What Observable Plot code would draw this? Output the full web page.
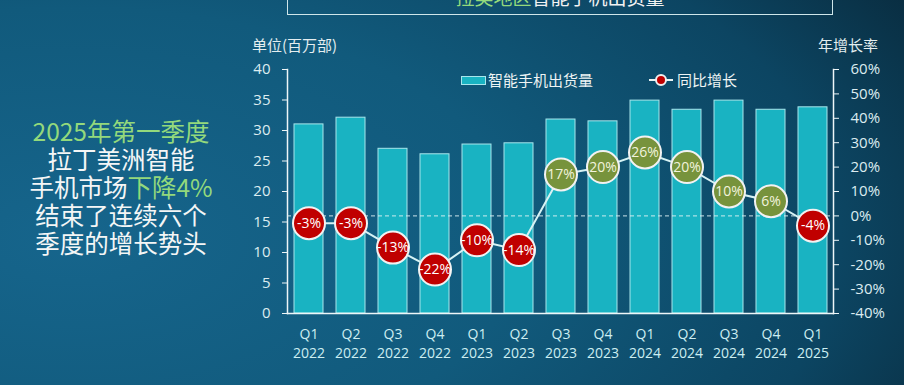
<!DOCTYPE html>
<html><head><meta charset="utf-8">
<script src="https://cdn.jsdelivr.net/npm/d3@7"></script>
<script src="https://cdn.jsdelivr.net/npm/@observablehq/plot@0.6"></script>
<style>
html,body{margin:0;padding:0;}
body{width:904px;height:385px;overflow:hidden;position:relative;
 background: radial-gradient(ellipse 125% 150% at 8% 62%, #16658c 0%, #115a7c 40%, #0c4562 68%, #092c3f 86%, #061b28 100%);
 font-family:"Noto Sans CJK SC","Open Sans",sans-serif;}
.abs{position:absolute;white-space:nowrap;}
#chart{position:absolute;left:0;top:0;}
.g{color:#93d97c;}
.ln{position:absolute;left:0;width:242px;text-align:center;font-size:24.5px;line-height:28px;height:28px;color:#f4f6f6;white-space:nowrap;}
</style></head><body>
<div id="chart"></div>
<div class="abs" style="left:287px;top:-20px;width:544px;height:33px;border:1px solid #cfe6ea;"></div>
<div class="abs" style="left:287px;width:546px;top:-14px;line-height:22px;font-size:19px;color:#f2f2f2;text-align:center;"><span class="g">拉美地区</span>智能手机出货量</div>
<div class="ln" style="top:117px;"><span class="g">2025年第一季度</span></div>
<div class="ln" style="top:145px;">拉丁美洲智能</div>
<div class="ln" style="top:173px;">手机市场<span class="g">下降4%</span></div>
<div class="ln" style="top:201px;">结束了连续六个</div>
<div class="ln" style="top:229px;">季度的增长势头</div>
<div class="abs" style="left:252px;top:35px;font-size:15px;line-height:20px;color:#e4eef0;">单位(百万部)</div>
<div class="abs" style="left:818px;top:35px;font-size:15px;line-height:20px;color:#e4eef0;">年增长率</div>
<div class="abs" style="left:461px;top:76px;width:23px;height:7px;background:#19b3c2;border:1px solid #a8e6ec;"></div>
<div class="abs" style="left:488px;top:70px;font-size:15px;line-height:20px;color:#eef4f4;">智能手机出货量</div>
<div class="abs" style="left:649px;top:79px;width:24px;height:2px;background:#e8f4f4;"></div>
<div class="abs" style="left:655px;top:74px;width:8px;height:8px;border-radius:50%;background:#c00000;border:2px solid #f0f0f0;"></div>
<div class="abs" style="left:677px;top:70px;font-size:15px;line-height:20px;color:#eef4f4;">同比增长</div>
<script>
const quarters = ["Q1 2022","Q2 2022","Q3 2022","Q4 2022","Q1 2023","Q2 2023","Q3 2023","Q4 2023","Q1 2024","Q2 2024","Q3 2024","Q4 2024","Q1 2025"];
const shipments = [31.0,32.1,27.0,26.1,27.7,27.9,31.8,31.5,34.9,33.4,34.9,33.4,33.8];
const growth = [-3,-3,-13,-22,-10,-14,17,20,26,20,10,6,-4];
const leftTicks = [0,5,10,15,20,25,30,35,40];
const rightTicks = [-40,-30,-20,-10,0,10,20,30,40,50,60];

// growth (-40%..60%) shares the y scale with shipments (0..40)
const toY = g => (g + 40) * 0.4;
const fromY = y => Math.round(y / 0.4 - 40);

const data = quarters.map((q, i) => ({q, s: shipments[i], g: growth[i]}));
const font = "'Open Sans','Noto Sans CJK SC',sans-serif";
const tickColor = "#dcecf0";

const chart = Plot.plot({
  width: 904, height: 385,
  marginLeft: 287, marginRight: 71, marginTop: 69, marginBottom: 72,
  style: {background: "transparent", color: tickColor, fontFamily: font, overflow: "visible"},
  x: {domain: quarters, type: "band", paddingInner: 0.31, paddingOuter: 0.155, label: null},
  y: {domain: [0, 40], label: null},
  marks: [
    Plot.barY(data, {x: "q", y: "s", fill: "#19b3c2", stroke: "#a8e6ec", strokeWidth: 1}),
    Plot.frame({anchor: "left", stroke: "#eef6f8", strokeWidth: 1.5}),
    Plot.frame({anchor: "right", stroke: "#eef6f8", strokeWidth: 1.5}),
    Plot.frame({anchor: "bottom", stroke: "#eef6f8", strokeWidth: 1.5}),
    Plot.ruleY([toY(0)], {stroke: "#e0f2f4", strokeDasharray: "4,3", strokeWidth: 1, strokeOpacity: 0.9}),
    Plot.axisY({anchor: "left", ticks: leftTicks, tickSize: 5, tickPadding: 12, fontSize: 15, label: null, stroke: "#eef6f8"}),
    Plot.axisY({anchor: "right", ticks: rightTicks.map(toY), tickFormat: d => fromY(d) + "%", tickSize: 5, tickPadding: 12, fontSize: 15, label: null, stroke: "#eef6f8"}),
    Plot.axisX({anchor: "bottom", tickSize: 0, tickPadding: 12, fontSize: 14, lineHeight: 1.35, tickFormat: d => d.replace(" ", "\n"), label: null, fill: "#cdeef2"}),
    Plot.line(data, {x: "q", y: d => toY(d.g), stroke: "#d6f2f4", strokeWidth: 2}),
    Plot.dot(data, {x: "q", y: d => toY(d.g), r: 16, fill: d => d.g < 0 ? "#c00000" : "#77933c", stroke: "#f2f2f2", strokeWidth: 2}),
    Plot.text(data, {x: "q", y: d => toY(d.g), text: d => d.g + "%", fill: d => d.g < 0 ? "#ffffff" : "#f2f4dc", fontSize: 14, fontFamily: font})
  ]
});
document.getElementById("chart").appendChild(chart);
</script>
</body></html>
